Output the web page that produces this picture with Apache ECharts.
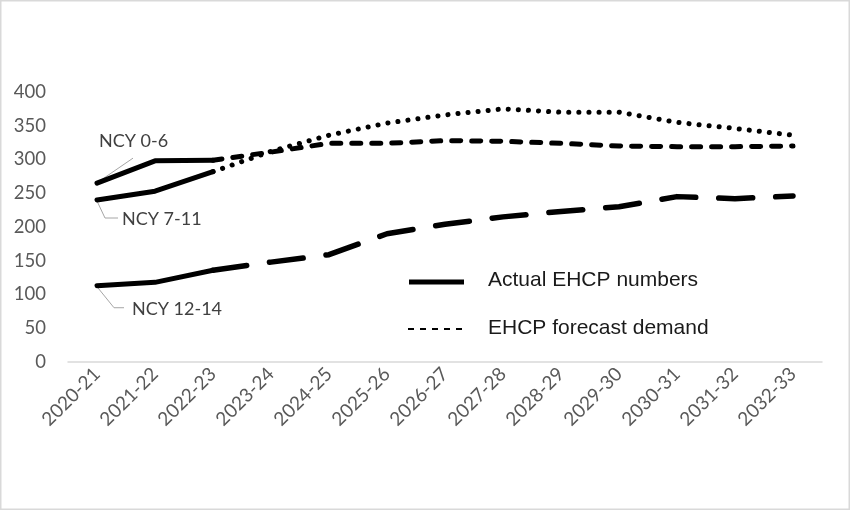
<!DOCTYPE html>
<html>
<head>
<meta charset="utf-8">
<script src="https://cdn.jsdelivr.net/npm/echarts@6/dist/echarts.min.js"></script>
<style>
html,body{margin:0;padding:0;background:#fff;}
#chart{width:850px;height:510px;}
</style>
</head>
<body>
<div id="chart"></div>
<script>
// ---- data ----
var categories = ['2020-21','2021-22','2022-23','2023-24','2024-25','2025-26','2026-27','2027-28','2028-29','2029-30','2030-31','2031-32','2032-33'];
var yTicks = [0, 50, 100, 150, 200, 250, 300, 350, 400];

var actual0to6   = [265, 298, 299, null, null, null, null, null, null, null, null, null, null];
var actual7to11  = [240, 253, 282, null, null, null, null, null, null, null, null, null, null];
var actual12to14 = [113, 118, 136, null, null, null, null, null, null, null, null, null, null];

var forecast0to6   = [null, null, 299, 311, 324, 324, 328, 327, 324, 320, 319, 319, 320];
var forecast7to11  = [null, null, 282, 312, 336, 354, 366, 375, 370, 370, 355, 346, 336];
var forecast12to14 = [null, null, 136, 148, 159, 190, 204, 215, 223, 230, 245, 242, 246];

var groupLabels = ['NCY 0-6', 'NCY 7-11', 'NCY 12-14'];
var legendLabels = ['Actual EHCP numbers', 'EHCP forecast demand'];

// ---- chart ----
var chart = echarts.init(document.getElementById('chart'), null, {renderer: 'canvas'});
var axisFont = 'Lato, "Open Sans", sans-serif';
var black = '#000000';

function lineSeries(name, data, width, dash) {
  return {
    name: name,
    type: 'line',
    data: data,
    symbol: 'none',
    smooth: false,
    connectNulls: false,
    silent: true,
    lineStyle: {color: black, width: width, type: dash, cap: 'round', join: 'round'}
  };
}

var option = {
  animation: false,
  backgroundColor: '#ffffff',
  grid: {left: 68, right: 28, top: 92, bottom: 148},
  xAxis: {
    type: 'category',
    data: categories,
    boundaryGap: true,
    axisLine: {lineStyle: {color: '#d9d9d9', width: 1.5}},
    axisTick: {show: false},
    axisLabel: {interval: 0, rotate: 45, fontFamily: axisFont, fontSize: 19, color: '#595959', margin: 9}
  },
  yAxis: {
    type: 'value',
    min: yTicks[0],
    max: yTicks[yTicks.length - 1],
    interval: yTicks[1] - yTicks[0],
    axisLine: {show: false},
    axisTick: {show: false},
    splitLine: {show: false},
    axisLabel: {fontFamily: axisFont, fontSize: 18.5, color: '#595959', margin: 22}
  },
  series: [
    lineSeries('a0', actual0to6, 5, 'solid'),
    lineSeries('a1', actual7to11, 5, 'solid'),
    lineSeries('a2', actual12to14, 5, 'solid'),
    lineSeries('f0', forecast0to6, 5, [9, 11]),
    lineSeries('f1', forecast7to11, 5, [0.1, 10]),
    lineSeries('f2', forecast12to14, 5.5, [34, 23])
  ]
};
chart.setOption(option);

// annotations anchored to the first data point of each group
function px(i, v) { return chart.convertToPixel({gridIndex: 0}, [i, v]); }
var p0 = px(0, actual0to6[0]);
var p1 = px(0, actual7to11[0]);
var p2 = px(0, actual12to14[0]);
var labelStyle = {fontFamily: axisFont, fontSize: 18, fill: '#404040', textVerticalAlign: 'middle', textAlign: 'left'};
var leader = {stroke: '#a6a6a6', lineWidth: 1, fill: null};
var legendFont = '"Liberation Sans", Arial, sans-serif';

var graphics = [
  {type: 'rect', silent: true, shape: {x: 0.75, y: 0.75, width: 848.5, height: 508.5}, style: {stroke: '#d9d9d9', lineWidth: 1.5, fill: null}},
  // group labels
  {type: 'line', silent: true, shape: {x1: p0[0] + 1, y1: p0[1] - 1, x2: p0[0] + 36, y2: p0[1] - 25}, style: leader},
  {type: 'text', silent: true, x: p0[0] + 2, y: p0[1] - 42, style: Object.assign({text: groupLabels[0]}, labelStyle)},
  {type: 'polyline', silent: true, shape: {points: [[p1[0], p1[1] + 1], [p1[0] + 8, p1[1] + 18], [p1[0] + 21, p1[1] + 18]]}, style: leader},
  {type: 'text', silent: true, x: p1[0] + 25, y: p1[1] + 19, style: Object.assign({text: groupLabels[1]}, labelStyle)},
  {type: 'polyline', silent: true, shape: {points: [[p2[0], p2[1] + 1], [p2[0] + 17, p2[1] + 22], [p2[0] + 27, p2[1] + 22]]}, style: leader},
  {type: 'text', silent: true, x: p2[0] + 35, y: p2[1] + 23, style: Object.assign({text: groupLabels[2]}, labelStyle)},
  // legend
  {type: 'line', silent: true, shape: {x1: 409, y1: 282, x2: 464, y2: 282}, style: {stroke: black, lineWidth: 5}},
  {type: 'text', silent: true, x: 488, y: 280, style: {text: legendLabels[0], fontFamily: legendFont, fontSize: 21, fill: '#1a1a1a', textVerticalAlign: 'middle'}},
  {type: 'line', silent: true, shape: {x1: 408, y1: 329, x2: 466, y2: 329}, style: {stroke: black, lineWidth: 2.2, lineDash: [6, 6]}},
  {type: 'text', silent: true, x: 488, y: 328, style: {text: legendLabels[1], fontFamily: legendFont, fontSize: 21, fill: '#1a1a1a', textVerticalAlign: 'middle'}}
];
chart.setOption({graphic: graphics});
</script>
</body>
</html>
